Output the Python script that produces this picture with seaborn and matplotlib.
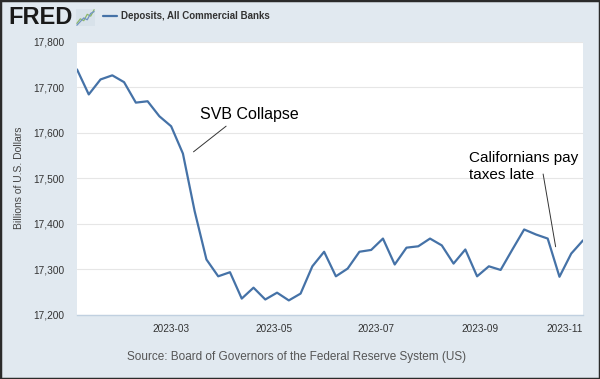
"""FRED chart: Deposits, All Commercial Banks (2023)"""
import pandas as pd
import matplotlib.pyplot as plt
import seaborn as sns
from matplotlib.patches import Rectangle

# Weekly H.8 observations (Wednesdays), billions of dollars
dates = ['2023-01-04', '2023-01-11', '2023-01-18', '2023-01-25',
         '2023-02-01', '2023-02-08', '2023-02-15', '2023-02-22',
         '2023-03-01', '2023-03-08', '2023-03-15', '2023-03-22', '2023-03-29',
         '2023-04-05', '2023-04-12', '2023-04-19', '2023-04-26',
         '2023-05-03', '2023-05-10', '2023-05-17', '2023-05-24', '2023-05-31',
         '2023-06-07', '2023-06-14', '2023-06-21', '2023-06-28',
         '2023-07-05', '2023-07-12', '2023-07-19', '2023-07-26',
         '2023-08-02', '2023-08-09', '2023-08-16', '2023-08-23', '2023-08-30',
         '2023-09-06', '2023-09-13', '2023-09-20', '2023-09-27',
         '2023-10-04', '2023-10-11', '2023-10-18', '2023-10-25',
         '2023-11-01']
deposits = [17739, 17684, 17717, 17726,
            17711, 17666, 17669, 17636,
            17614, 17554, 17427, 17321, 17284,
            17293, 17235, 17259, 17233,
            17248, 17231, 17246, 17306, 17338,
            17284, 17301, 17338, 17342,
            17367, 17310, 17347, 17350,
            17367, 17352, 17312, 17343, 17284,
            17306, 17298, 17343, 17387,
            17376, 17367, 17283, 17334,
            17363]
y_ticks = [17200, 17300, 17400, 17500, 17600, 17700, 17800]
x_ticks = ['2023-03-01', '2023-05-01', '2023-07-01', '2023-09-01', '2023-11-01']
x_labels = ['2023-03', '2023-05', '2023-07', '2023-09', '2023-11']

# little logo graph next to "FRED"
icon_green = [1, 2, 1.6, 3, 2.6, 4]
icon_blue = [0.6, 1.4, 2.2, 1.8, 3.2, 3.6]

df = pd.DataFrame({'date': pd.to_datetime(dates), 'value': deposits})

sns.set_style("white")
plt.rcParams['font.family'] = ['Liberation Sans', 'DejaVu Sans']

bg = '#e1e9f0'
blue = '#4572a7'
fig = plt.figure(figsize=(6, 3.79), dpi=100, facecolor=bg)

ax = fig.add_axes([77/600, 1 - 314.5/379, 506/600, 272.8/379])
sns.lineplot(data=df, x='date', y='value', ax=ax, color=blue, linewidth=1.6)

ax.set_xlim(df['date'].min(), df['date'].max())
ax.set_ylim(17200, 17800)
ax.set_yticks(y_ticks)
ax.set_yticklabels([f'{v:,}' for v in y_ticks])
ax.set_xticks(pd.to_datetime(x_ticks))
ax.set_xticklabels(x_labels)
ax.xaxis.get_ticklabels()[-1].set_horizontalalignment('right')
ax.grid(axis='y', color='#e6e6e6', linewidth=0.8)
ax.set_axisbelow(True)
for s in ['top', 'right', 'left']:
    ax.spines[s].set_visible(False)
ax.spines['bottom'].set_color('#c0d0e0')
ax.spines['bottom'].set_linewidth(1)
ax.tick_params(axis='y', length=0, pad=9, labelsize=7.3, labelcolor='#333333')
ax.tick_params(axis='x', length=4, width=0.6, color='#c0d0e0', pad=3,
               labelsize=7.2, labelcolor='#333333', direction='out')
ax.set_xlabel('')
ax.set_ylabel('Billions of U.S. Dollars', fontsize=7.5, color='#444444')
ax.yaxis.set_label_coords(-0.104, 0.5)

# annotations
ax.annotate('', xy=(pd.Timestamp('2023-03-13'), 17554),
            xytext=(pd.Timestamp('2023-04-04'), 17618),
            arrowprops=dict(arrowstyle='-', color='#333333', lw=0.7))
ax.text(pd.Timestamp('2023-03-18'), 17640, 'SVB Collapse', fontsize=11.5,
        color='black', va='center')
ax.annotate('', xy=(pd.Timestamp('2023-10-16'), 17343),
            xytext=(pd.Timestamp('2023-10-08'), 17515),
            arrowprops=dict(arrowstyle='-', color='#333333', lw=0.7))
ax.text(pd.Timestamp('2023-08-25'), 17525, 'Californians pay\ntaxes late',
        fontsize=11, color='black', va='center', linespacing=1.25)

# header
fig.text(8/600, 1 - 17/379, 'FRED', fontsize=17, fontweight='heavy',
         color='#1a1a1a', va='center')
icon = fig.add_axes([76/600, 1 - 26/379, 19/600, 17/379], facecolor='#d8e2ea')
icon.plot(icon_green, color='#8cb86a', lw=0.9)
icon.plot(icon_blue, color='#6f93c0', lw=0.9)
icon.set_xticks([])
icon.set_yticks([])
for s in icon.spines.values():
    s.set_visible(False)
fig.add_artist(plt.Line2D([103/600, 117/600], [1 - 16/379, 1 - 16/379],
                          color=blue, lw=1.6))
fig.text(121/600, 1 - 16/379, 'Deposits, All Commercial Banks', fontsize=7,
         fontweight='bold', color='#333333', va='center')

# source
fig.text(297/600, 1 - 357/379, 'Source: Board of Governors of the Federal Reserve System (US)',
         fontsize=8.5, color='#555555', ha='center', va='center')

# dark frame
fig.add_artist(Rectangle((0, 0), 1, 1, transform=fig.transFigure, fill=False,
                         edgecolor='#2b2b2b', linewidth=2.5))

fig.savefig('out.png', dpi=100, facecolor=bg)
